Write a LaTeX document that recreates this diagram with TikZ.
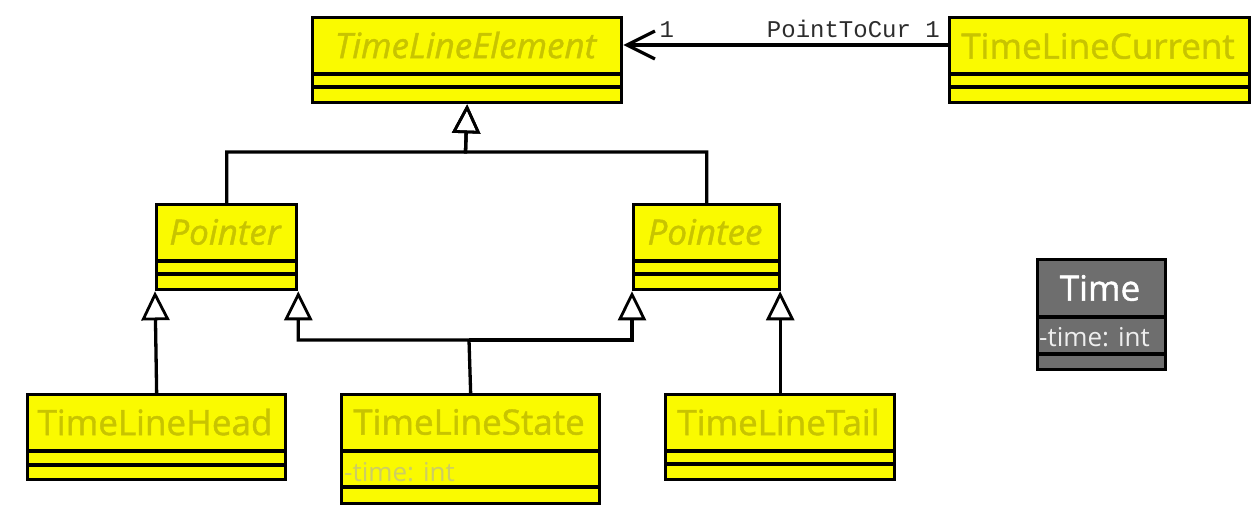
\documentclass[tikz,border=0pt]{standalone}
\usepackage{fontspec}
\setmainfont{Open Sans}
\newfontfamily\namefont{Open Sans}[FakeBold=1.2]
\newfontfamily\monofont{Liberation Mono}
\usetikzlibrary{arrows.meta,calc}

\definecolor{classfill}{RGB}{250,250,0}
\definecolor{nametext}{RGB}{200,196,0}
\definecolor{attrtext}{RGB}{205,205,100}
\definecolor{greyfill}{RGB}{110,110,110}
\definecolor{greytext}{RGB}{238,238,238}
\definecolor{labeltext}{RGB}{45,45,45}

\tikzset{
  classbox/.style={draw=black, line width=3.3pt, fill=classfill, inner sep=0pt, anchor=north west},
  greybox/.style={fill=greyfill},
  classname/.style={text=nametext, inner sep=0pt, font=\namefont\fontsize{35}{40}\selectfont},
  abstractname/.style={classname, font=\namefont\fontsize{35}{40}\selectfont\itshape},
  attrname/.style={text=attrtext, inner sep=0pt, anchor=west, font=\fontsize{26}{30}\selectfont},
  multlabel/.style={text=labeltext, inner sep=0pt, font=\monofont\fontsize{24}{27}\selectfont},
  divider/.style={line width=3.3pt},
  gen/.style={line width=3.3pt, -{Triangle[open, length=29pt, width=28pt, line width=2.8pt]}},
  assoc/.style={line width=3.3pt, -{Straight Barb[length=28pt, width=28pt, line width=3.3pt]}}
}

% class box: name, x1, y1, x2, y2, first divider, second divider, extra style
\newcommand\classbox[8]{%
  \node[classbox, #8, minimum width={#4pt-#2pt}, minimum height={#5pt-#3pt}] (#1) at (#2,#3) {};
  \draw[divider] (#2,#6) -- (#4,#6) (#2,#7) -- (#4,#7);
}

\begin{document}
\begin{tikzpicture}[x=1pt, y=-1pt]
  \useasboundingbox[fill=white] (0,0) rectangle (1251,521);

  % classes
  \classbox{tle}{311}{16}{620}{101}{74}{87}{}
  \classbox{tlc}{948}{16}{1248}{101}{74}{87}{}
  \classbox{pointer}{155}{203}{295}{288}{261}{274}{}
  \classbox{pointee}{632}{203}{778}{288}{261}{274}{}
  \classbox{tlh}{26}{393}{284}{478}{451}{465}{}
  \classbox{tls}{340}{393}{598}{502}{451}{487}{}
  \classbox{tlt}{664}{393}{893}{478}{451}{464}{}
  \classbox{time}{1036}{258}{1164}{368}{317}{354}{greybox}

  % class names
  \node[abstractname] (tleName) at ({(311+620)/2},45) {TimeLineElement};
  \node[classname] (tlcName) at ({(948+1248)/2},46) {TimeLineCurrent};
  \node[abstractname] (pointerName) at ({(155+295)/2},232) {Pointer};
  \node[abstractname] (pointeeName) at ({(632+778)/2},232) {Pointee};
  \node[classname] (tlhName) at ({(26+284)/2},422) {TimeLineHead};
  \node[classname] (tlsName) at ({(340+598)/2},422) {TimeLineState};
  \node[classname] (tltName) at ({(664+893)/2},422) {TimeLineTail};
  \node[classname, text=white] (timeName) at ({(1036+1164)/2},288) {Time};

  % attributes
  \node[attrname] (tlsAttr) at (344,472) {-time: int};
  \node[attrname, text=greytext] (timeAttr) at (1039,337) {-time: int};

  % generalisations
  \coordinate (topj) at (465.5,152);
  \coordinate (botj) at (469,340);
  \draw[gen] (pointer.north) |- (topj) -- (tle.south);
  \draw[gen] (pointee.north) |- (topj) -- (tle.south);
  \draw[gen] (tlh.north) -- (pointer.south west);
  \draw[gen] (tls.north) -- (botj) -| (pointer.south east);
  \draw[gen] (botj) -| (pointee.south west);
  \draw[gen] (tlt.north) -- (tlt.north |- pointee.south east);

  % association
  \draw[assoc] ([yshift=-29pt]tlc.north west) -- ([yshift=-29pt]tle.north east);
  \node[multlabel, anchor=base west] (multTarget) at ([xshift=36pt, yshift=-22pt]tle.north east) {1};
  \node[multlabel, anchor=base east] (multSource) at ([xshift=-8pt, yshift=-22pt]tlc.north west) {PointToCur 1};
\end{tikzpicture}
\end{document}
